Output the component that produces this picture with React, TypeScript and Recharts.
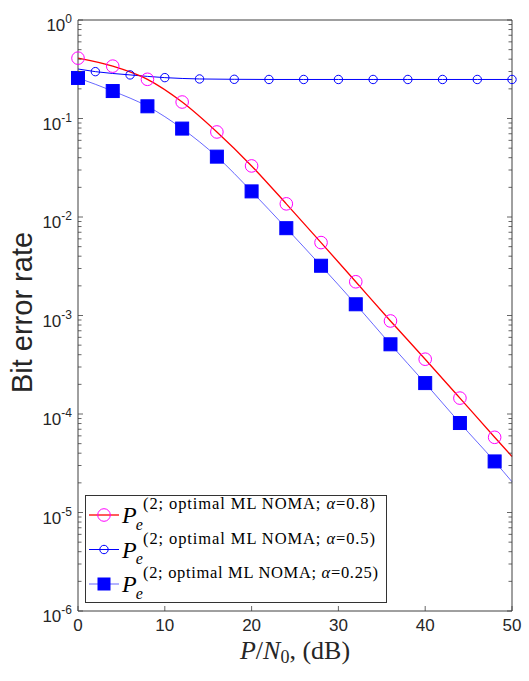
import { LineChart, Line, XAxis, YAxis, Legend } from "recharts";

// P/N0 (dB) sample points and bit error rates
const RED_X = [0, 4, 8, 12, 16, 20, 24, 28, 32, 36, 40, 44, 48, 50];
const RED_Y = [0.41, 0.34, 0.25, 0.147, 0.073, 0.033, 0.0136, 0.0055, 0.0022, 0.00088, 0.00036, 0.000145, 0.000058, 0.000037];
const RED_MARKS = [0, 4, 8, 12, 16, 20, 24, 28, 32, 36, 40, 44, 48];

const CIRC_X = [0, 2, 6, 10, 14, 18, 22, 26, 30, 34, 38, 42, 46, 50];
const CIRC_Y = [0.318, 0.299, 0.277, 0.26, 0.252, 0.25, 0.249, 0.249, 0.249, 0.249, 0.249, 0.249, 0.249, 0.249];
const CIRC_MARKS = [2, 6, 10, 14, 18, 22, 26, 30, 34, 38, 42, 46, 50];

const SQ_X = [0, 4, 8, 12, 16, 20, 24, 28, 32, 36, 40, 44, 48, 50];
const SQ_Y = [0.258, 0.19, 0.133, 0.079, 0.041, 0.0182, 0.0077, 0.0032, 0.0013, 0.00051, 0.000206, 0.000081, 0.000033, 0.0000205];
const SQ_MARKS = [0, 4, 8, 12, 16, 20, 24, 28, 32, 36, 40, 44, 48];

const X_TICKS = [0, 10, 20, 30, 40, 50];
const Y_MAJOR = [1e-6, 1e-5, 1e-4, 1e-3, 1e-2, 1e-1, 1];
const MINOR_MULT = [2, 3, 4, 5, 6, 7, 8, 9];
const Y_TICKS = [
  ...Y_MAJOR,
  ...Y_MAJOR.slice(0, -1).flatMap((d) => MINOR_MULT.map((m) => m * d)),
].sort((a, b) => a - b);

const LEGEND_SUPS = ["0.8", "0.5", "0.25"];

const AXIS = "#404040";
const SANS = "'Liberation Sans', Arial, sans-serif";
const SERIF = "'Liberation Serif', 'Times New Roman', serif";

const toRows = (xs: number[], ys: number[], marks: number[]) =>
  xs.map((x, i) => ({ x, y: ys[i], m: marks.includes(x) }));

const redData = toRows(RED_X, RED_Y, RED_MARKS);
const circData = toRows(CIRC_X, CIRC_Y, CIRC_MARKS);
const sqData = toRows(SQ_X, SQ_Y, SQ_MARKS);

const isMajor = (v: number) => Math.abs(Math.log10(v) - Math.round(Math.log10(v))) < 1e-6;

function YTick({ x, y, payload, side }: any) {
  const v = payload.value;
  const major = isMajor(v);
  const dir = side === "left" ? 1 : -1;
  const len = major ? 5 : 3.5;
  return (
    <g>
      <line x1={x} x2={x + dir * len} y1={y} y2={y} stroke={AXIS} strokeWidth={0.8} />
      {major && side === "left" && (
        <text x={x - 6} y={y + 11} textAnchor="end" fontFamily={SANS} fontSize={17} fill="#262626">
          10
          <tspan dy={-8} fontSize={12}>{Math.round(Math.log10(v))}</tspan>
        </text>
      )}
    </g>
  );
}

function XTick({ x, y, payload, side }: any) {
  const v = payload.value;
  const dir = side === "bottom" ? -1 : 1;
  return (
    <g>
      <line x1={x} x2={x} y1={y} y2={y + dir * 5} stroke={AXIS} strokeWidth={0.8} />
      {side === "bottom" && (
        <text x={x} y={y + 20} textAnchor="middle" fontFamily={SANS} fontSize={17} fill="#262626">
          {v}
        </text>
      )}
    </g>
  );
}

function XLabel({ viewBox }: any) {
  const cx = viewBox.x + viewBox.width / 2;
  return (
    <text x={cx} y={659} textAnchor="middle" fontFamily={SERIF} fontSize={26} fill="#262626">
      <tspan fontStyle="italic">P</tspan>
      <tspan>/</tspan>
      <tspan fontStyle="italic">N</tspan>
      <tspan dy={4} fontSize={18}>0</tspan>
      <tspan dy={-4}>, (dB)</tspan>
    </text>
  );
}

function YLabel() {
  return (
    <text x={32} y={312.5} transform="rotate(-90 32 312.5)" textAnchor="middle" fontFamily={SANS} fontSize={29} fill="#262626">
      Bit error rate
    </text>
  );
}

function circleDot(color: string, r: number) {
  return (props: any) => {
    const { cx, cy, payload, index } = props;
    if (!payload.m) return <g key={index} />;
    return <circle key={index} cx={cx} cy={cy} r={r} fill="none" stroke={color} strokeWidth={1} />;
  };
}

function squareDot(props: any) {
  const { cx, cy, payload, index } = props;
  if (!payload.m) return <g key={index} />;
  return <rect key={index} x={cx - 6.5} y={cy - 6.5} width={13} height={13} fill="#0000ff" stroke="#0000ff" />;
}

function LegendBox() {
  const rows = [
    { line: "#ff0000", w: 1.3, marker: <circle cx={19} cy={0} r={6.3} fill="none" stroke="#ff00ff" /> },
    { line: "#0000ff", w: 1, marker: <circle cx={19} cy={0} r={4.2} fill="none" stroke="#0000ff" /> },
    { line: "#0000ff", w: 0.6, marker: <rect x={12.5} y={-6.5} width={13} height={13} fill="#0000ff" /> },
  ];
  const ys = [20, 54.5, 89];
  const lens = [232, 232, 235];
  return (
    <svg width={302} height={108} style={{ display: "block", overflow: "visible" }}>
      <rect x={0.5} y={0.5} width={301} height={107} fill="#fff" stroke="#333" strokeWidth={1} />
      {rows.map((r, i) => (
        <g key={i} transform={`translate(0 ${ys[i]})`}>
          <line x1={4} x2={34} y1={0} y2={0} stroke={r.line} strokeWidth={r.w} />
          {r.marker}
          <text x={37} y={8} fontFamily={SERIF} fontSize={24} fontStyle="italic" fill="#000">
            P<tspan dx={-1} dy={6.5} fontSize={16}>e</tspan>
          </text>
          <text x={58} y={-6} fontFamily={SERIF} fontSize={16.5} fill="#000" textLength={lens[i]} lengthAdjust="spacing">
            (2; optimal ML NOMA; <tspan fontStyle="italic">α</tspan>={LEGEND_SUPS[i]})
          </text>
        </g>
      ))}
    </svg>
  );
}

export default function App() {
  return (
    <div style={{ position: "absolute", left: 0, top: 0, background: "#fff" }}>
      <LineChart width={529} height={681} margin={{ top: 19, right: 16, bottom: 0, left: 0 }}>
        <XAxis
          dataKey="x"
          type="number"
          domain={[0, 50]}
          ticks={X_TICKS}
          interval={0}
          height={70}
          tickSize={0}
          tickMargin={0}
          tickLine={false}
          axisLine={{ stroke: AXIS }}
          tick={<XTick side="bottom" />}
          label={<XLabel />}
          allowDuplicatedCategory={false}
        />
        <XAxis
          xAxisId="top"
          orientation="top"
          dataKey="x"
          type="number"
          domain={[0, 50]}
          ticks={X_TICKS}
          interval={0}
          height={1}
          tickSize={0}
          tickMargin={0}
          tickLine={false}
          axisLine={{ stroke: AXIS }}
          tick={<XTick side="top" />}
        />
        <YAxis
          type="number"
          scale="log"
          domain={[1e-6, 1]}
          allowDataOverflow
          ticks={Y_TICKS}
          interval={0}
          width={78}
          tickSize={0}
          tickMargin={0}
          tickLine={false}
          axisLine={{ stroke: AXIS }}
          tick={<YTick side="left" />}
          label={<YLabel />}
        />
        <YAxis
          yAxisId="right"
          orientation="right"
          type="number"
          scale="log"
          domain={[1e-6, 1]}
          allowDataOverflow
          ticks={Y_TICKS}
          interval={0}
          width={1}
          tickSize={0}
          tickMargin={0}
          tickLine={false}
          axisLine={{ stroke: AXIS }}
          tick={<YTick side="right" />}
        />
        <Line data={circData} dataKey="y" type="monotone" stroke="#0000ff" strokeWidth={1} dot={circleDot("#0000ff", 4.2)} isAnimationActive={false} />
        <Line data={sqData} dataKey="y" type="monotone" stroke="#0000ff" strokeWidth={0.6} dot={squareDot} isAnimationActive={false} />
        <Line data={redData} dataKey="y" type="monotone" stroke="#ff0000" strokeWidth={1.3} dot={circleDot("#ff00ff", 6.3)} isAnimationActive={false} />
        <Legend
          layout="vertical"
          align="center"
          verticalAlign="middle"
          content={<LegendBox />}
          wrapperStyle={{ left: 85, top: 495, width: 302, height: 108 }}
        />
      </LineChart>
    </div>
  );
}
